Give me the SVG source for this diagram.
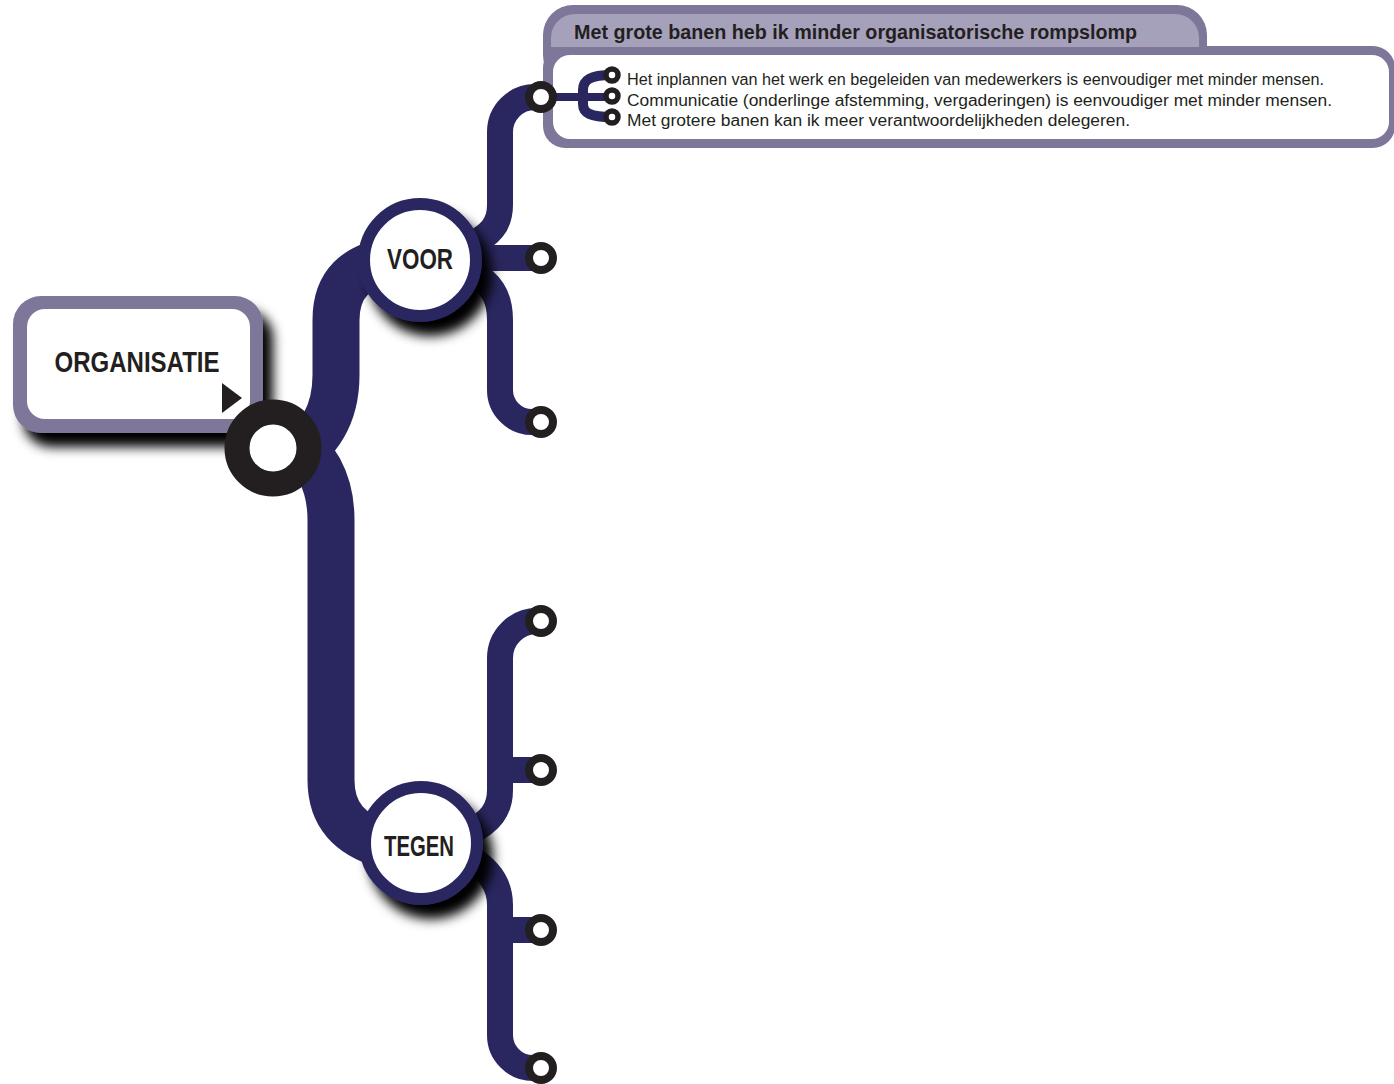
<svg xmlns="http://www.w3.org/2000/svg" width="1394" height="1084" viewBox="0 0 1394 1084">
<style>
.navy{fill:none;stroke:#2a2760;stroke-linecap:butt;stroke-linejoin:round}
.ring{fill:#fff;stroke:#231f20}
.t{font-family:"Liberation Sans",Arial,sans-serif;fill:#231f20}
.b{font-weight:bold}
</style>
<defs>
<filter id="sh" x="-30%" y="-30%" width="170%" height="170%">
<feGaussianBlur in="SourceAlpha" stdDeviation="6"/>
<feOffset dx="10" dy="14" result="o"/>
<feFlood flood-color="#000"/>
<feComposite in2="o" operator="in" result="s"/>
<feMerge><feMergeNode in="s"/><feMergeNode in="SourceGraphic"/></feMerge>
</filter>
</defs>
<rect width="1394" height="1084" fill="#fff"/>

<g id="organisatie">
<rect x="13" y="296" width="250" height="137" rx="28" fill="#7e7799" filter="url(#sh)"/>
<rect x="27" y="309" width="223" height="110" rx="18" fill="#fff"/>
<text class="t b" x="137" y="372" font-size="30" text-anchor="middle" textLength="165" lengthAdjust="spacingAndGlyphs">ORGANISATIE</text>
<polygon points="222,383 242,398 222,413" fill="#231f20"/>
</g>

<g id="connectors">
<path class="navy" stroke-width="47" d="M285,465 C320,440 336,415 336,375 L336,320 C336,285 355,265 395,260"/>
<path class="navy" stroke-width="47" d="M285,432 C315,455 331,480 331,520 L331,780 C331,815 350,835 385,845"/>
<path class="navy" stroke-width="26" d="M541,97 L535,97 A35,35 0 0 0 500,132 L500,205 C500,225 490,235 470,245"/>
<path class="navy" stroke-width="26" d="M470,258 L541,258"/>
<path class="navy" stroke-width="26" d="M470,272 C490,282 500,295 500,320 L500,390 A32,32 0 0 0 532,422 L541,422"/>
<path class="navy" stroke-width="26" d="M541,621 L537,621 A37,37 0 0 0 500,658 L500,790 C500,810 490,822 470,832"/>
<path class="navy" stroke-width="26" d="M500,770 L541,770"/>
<path class="navy" stroke-width="26" d="M470,858 C490,870 500,885 500,905 L500,1035 A33,33 0 0 0 533,1068 L541,1068"/>
<path class="navy" stroke-width="26" d="M500,930 L541,930"/>
</g>

<g id="callout">
<rect x="543" y="5" width="664" height="80" rx="30" fill="#7e7799"/>
<rect x="543" y="46" width="852" height="102" rx="22" fill="#7e7799"/>
<path d="M551,47 L551,38 A24,24 0 0 1 575,14 L1175,14 A24,24 0 0 1 1199,38 L1199,47 Z" fill="#a6a1bb"/>
<rect x="553" y="55" width="836" height="84" rx="17" fill="#fff"/>
<text class="t b" x="574" y="39" font-size="21" textLength="563" lengthAdjust="spacingAndGlyphs">Met grote banen heb ik minder organisatorische rompslomp</text>
<text class="t" x="627" y="85" font-size="16" textLength="697" lengthAdjust="spacingAndGlyphs">Het inplannen van het werk en begeleiden van medewerkers is eenvoudiger met minder mensen.</text>
<text class="t" x="627" y="106" font-size="16" textLength="705" lengthAdjust="spacingAndGlyphs">Communicatie (onderlinge afstemming, vergaderingen) is eenvoudiger met minder mensen.</text>
<text class="t" x="627" y="126" font-size="16" textLength="503" lengthAdjust="spacingAndGlyphs">Met grotere banen kan ik meer verantwoordelijkheden delegeren.</text>
</g>

<g id="subconnectors">
<path class="navy" stroke-width="8" d="M550,97 L612,97"/>
<path class="navy" stroke-width="10" d="M612,75 C590,75 583,80 583,90 L583,104 C583,113 590,117 612,117"/>
</g>

<g id="sub-nodes">
<circle class="ring" cx="612" cy="75" r="6" stroke-width="5.5"/>
<circle class="ring" cx="612" cy="96" r="6" stroke-width="5.5"/>
<circle class="ring" cx="612" cy="117" r="6" stroke-width="5.5"/>
</g>

<g id="voor">
<circle cx="420" cy="260" r="56" fill="#fff" stroke="#2a2760" stroke-width="12" filter="url(#sh)"/>
<text class="t b" x="420" y="269" font-size="30" text-anchor="middle" textLength="66" lengthAdjust="spacingAndGlyphs">VOOR</text>
</g>

<g id="tegen">
<circle cx="421" cy="843" r="56" fill="#fff" stroke="#2a2760" stroke-width="12" filter="url(#sh)"/>
<text class="t b" x="419" y="856" font-size="30" text-anchor="middle" textLength="70" lengthAdjust="spacingAndGlyphs">TEGEN</text>
</g>

<g id="hub">
<circle class="ring" cx="273" cy="448" r="36" stroke-width="25"/>
</g>

<g id="leaf-nodes">
<circle id="n-voor-1" class="ring" cx="541" cy="97" r="12" stroke-width="8"/>
<circle id="n-voor-2" class="ring" cx="541" cy="258" r="12" stroke-width="8"/>
<circle id="n-voor-3" class="ring" cx="541" cy="422" r="12" stroke-width="8"/>
<circle id="n-tegen-1" class="ring" cx="541" cy="621" r="12" stroke-width="8"/>
<circle id="n-tegen-2" class="ring" cx="541" cy="770" r="12" stroke-width="8"/>
<circle id="n-tegen-3" class="ring" cx="541" cy="930" r="12" stroke-width="8"/>
<circle id="n-tegen-4" class="ring" cx="541" cy="1068" r="12" stroke-width="8"/>
</g>
</svg>
